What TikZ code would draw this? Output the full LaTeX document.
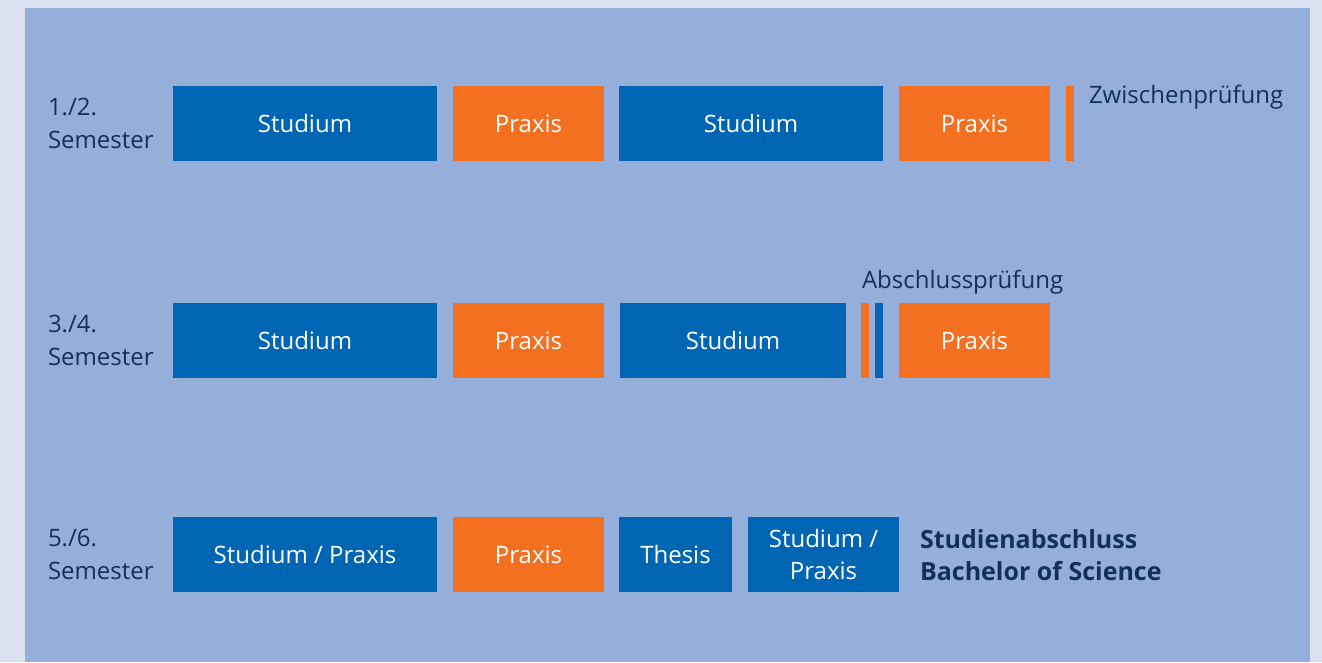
\documentclass[tikz,border=0pt]{standalone}
\usepackage{fontspec}
\setmainfont{Open Sans}
\definecolor{outerbg}{HTML}{DCE1F2}
\definecolor{innerbg}{HTML}{96AFDA}
\definecolor{studblue}{HTML}{0066B3}
\definecolor{praxorange}{HTML}{F37021}
\definecolor{navytext}{HTML}{12305C}
\begin{document}
\begin{tikzpicture}[x=1pt,y=-1pt,
  every node/.style={inner sep=0pt,outer sep=0pt,font=\fontsize{24}{32.5}\selectfont},
  studium/.style={fill=studblue,text=white,minimum height=75pt,align=center},
  praxis/.style={fill=praxorange,text=white,minimum height=75pt,align=center},
  label/.style={text=navytext,align=left,anchor=west},]

 \fill [outerbg] (0,0) rectangle (1322,662);
 \fill [innerbg] (25,8) rectangle (1310,662);
 \useasboundingbox (0,0) rectangle (1322,662);

 % 1./2. Semester
 \node (sem_12) at (48,123.5) [label] {1./2.\\Semester};
 \node (row1_0) at (305,123.5) [studium,minimum width=264pt] {Studium};
 \node (row1_1) at (528.5,123.5) [praxis,minimum width=151pt] {Praxis};
 \node (row1_2) at (751,123.5) [studium,minimum width=264pt] {Studium};
 \node (row1_3) at (974.5,123.5) [praxis,minimum width=151pt] {Praxis};
 \node (row1_4) at (1069.5,123.5) [praxis,minimum width=8pt] {};
 \node (zwischen) at (1089,97) [label] {Zwischenprüfung};

 % 3./4. Semester
 \node (sem_34) at (48,340.5) [label] {3./4.\\Semester};
 \node (row2_0) at (305,340.5) [studium,minimum width=264pt] {Studium};
 \node (row2_1) at (528.5,340.5) [praxis,minimum width=151pt] {Praxis};
 \node (row2_2) at (733,340.5) [studium,minimum width=226pt] {Studium};
 \node (row2_3) at (865,340.5) [praxis,minimum width=8pt] {};
 \node (row2_4) at (879,340.5) [studium,minimum width=8pt] {};
 \node (row2_5) at (974.5,340.5) [praxis,minimum width=151pt] {Praxis};
 \node (abschluss) at (862,282) [label] {Abschlussprüfung};

 % 5./6. Semester
 \node (sem_56) at (48,554.5) [label] {5./6.\\Semester};
 \node (row3_0) at (305,554.5) [studium,minimum width=264pt] {Studium / Praxis};
 \node (row3_1) at (528.5,554.5) [praxis,minimum width=151pt] {Praxis};
 \node (row3_2) at (675.5,554.5) [studium,minimum width=113pt] {Thesis};
 \node (row3_3) at (823.5,554.5) [studium,minimum width=151pt] {Studium /\\Praxis};
 \node (degree) at (920,555) [label,font=\fontsize{25}{32}\selectfont\bfseries] {Studienabschluss\\Bachelor of Science};
\end{tikzpicture}
\end{document}
